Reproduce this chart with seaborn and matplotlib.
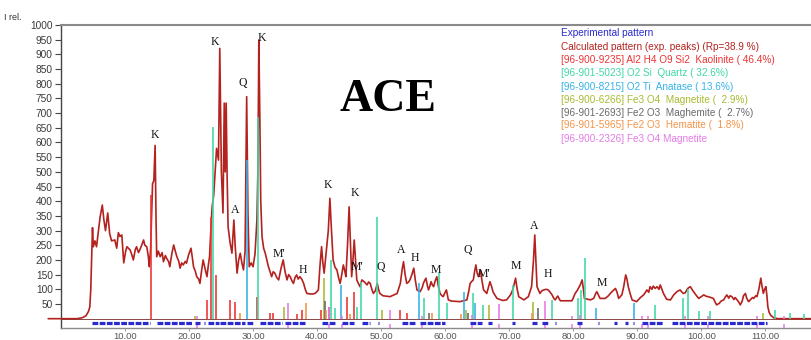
import matplotlib
matplotlib.use("Agg")
import matplotlib.pyplot as plt
import seaborn as sns
import pandas as pd

# ---------------- data ----------------
two_theta = [-2, 0, 2.5, 3.3, 3.9, 4.3, 4.5, 4.65, 4.8, 4.92, 5.05, 5.3, 5.55, 5.8, 6.1, 6.45, 6.7, 6.95,
             7.3, 7.6, 7.9, 8.4, 8.7, 8.96, 9.2, 9.5, 9.8, 10.1, 10.3, 10.8, 11.1, 11.3, 11.6, 11.8, 12.1,
             12.3, 12.6, 12.9, 13.1, 13.4, 13.65, 13.8, 14.0, 14.3, 14.5, 14.7, 14.85, 14.95, 15.2, 15.5,
             15.8, 16.0, 16.3, 16.5, 16.8, 17.0, 17.3, 17.6, 17.85, 18.1, 18.4, 18.6, 18.85, 19.1, 19.4,
             19.6, 19.9, 20.3, 20.5, 20.7, 21.0, 21.2, 21.5, 21.7, 22.0, 22.2, 22.5, 22.8, 23.0, 23.2,
             23.4, 23.6, 23.85, 24.1, 24.3, 24.45, 24.6, 24.8, 25.05, 25.3, 25.5, 25.65, 25.8, 25.95,
             26.1, 26.4, 26.7, 26.85, 27.0, 27.2, 27.5, 27.75, 28.0, 28.25, 28.5, 28.75, 29.0, 29.2,
             29.4, 29.7, 30.0, 30.3, 30.6, 30.75, 30.9, 31.05, 31.2, 31.4, 31.65, 31.9, 32.15, 32.4,
             32.65, 32.9, 33.15, 33.4, 33.7, 34.0, 34.35, 34.7, 35.0, 35.3, 35.55, 35.8, 36.05, 36.3,
             36.55, 36.8, 37.05, 37.3, 37.6, 37.9, 38.15, 38.4, 39.0, 39.4, 39.8, 40.2, 40.45, 40.7,
             40.9, 41.1, 41.3, 41.5, 41.75, 42.0, 42.2, 42.5, 42.8, 43.1, 43.35, 43.6, 43.85, 44.1,
             44.3, 44.5, 44.75, 45.0, 45.2, 45.4, 45.6, 45.8, 46.0, 46.2, 46.45, 46.7, 47.0, 47.4,
             47.8, 48.05, 48.3, 48.55, 48.8, 49.1, 49.4, 49.6, 49.8, 50.3, 51.4, 52.5, 53.0, 53.3,
             53.5, 53.75, 54.0, 54.3, 54.5, 54.8, 55.1, 55.35, 55.6, 56.1, 56.4, 56.6, 56.8, 57.0,
             57.2, 57.4, 57.6, 57.8, 58.0, 58.2, 58.4, 58.7, 58.95, 59.2, 59.5, 59.7, 60.0, 60.2,
             60.5, 61.0, 62.3, 63.4, 63.7, 63.9, 64.2, 64.4, 64.6, 64.8, 65.0, 65.2, 65.5, 65.75,
             66.0, 66.5, 66.8, 67.0, 67.25, 67.5, 68.1, 69.0, 69.6, 70.2, 70.5, 70.7, 71.0, 71.25,
             71.5, 72.3, 73.0, 73.3, 73.5, 73.8, 74.0, 74.2, 74.35, 74.8, 75.1, 75.4, 75.8, 76.1,
             76.4, 76.7, 77.0, 77.2, 77.4, 77.6, 77.8, 78.0, 79.8, 80.0, 80.3, 80.6, 80.8, 81.1,
             81.4, 81.6, 81.75, 82.7, 83.2, 83.5, 83.7, 83.95, 84.2, 85.0, 85.5, 85.8, 86.2, 86.6,
             86.85, 87.1, 87.6, 87.9, 88.2, 88.4, 88.6, 88.9, 89.2, 89.9, 90.5, 91.0, 91.3, 91.5,
             91.8, 92.0, 92.3, 92.5, 92.8, 93.1, 93.4, 93.6, 93.85, 94.1, 94.6, 95.2, 95.7, 96.2,
             96.7, 97.0, 97.2, 97.5, 97.8, 98.0, 98.3, 98.6, 98.8, 99.2, 99.6, 100.0, 100.4, 100.8,
             101.1, 101.5, 101.9, 102.2, 102.4, 102.8, 103.1, 103.5, 103.8, 104.0, 104.3, 104.5,
             104.8, 105.1, 105.3, 105.6, 105.9, 106.1, 106.4, 106.6, 106.9, 107.1, 107.4, 107.7,
             108.0, 108.2, 108.5, 108.7, 109.0, 109.3, 109.5, 109.7, 109.9, 110.1, 110.25, 110.4,
             110.6, 110.8, 111.3, 112.0, 117.5]
intensity = [0, 0, 0, 3, 10, 25, 40, 100, 210, 310, 245, 265, 245, 290, 345, 387, 336, 300,
             360, 290, 265, 268, 240, 293, 280, 285, 190, 230, 245, 234, 215, 200, 235, 245, 225,
             234, 250, 268, 250, 245, 210, 177, 240, 460, 470, 590, 330, 211, 230, 211,
             225, 194, 215, 205, 195, 177, 220, 251, 230, 211, 195, 172, 190, 183, 195,
             189, 215, 240, 210, 177, 160, 143, 135, 120, 170, 200, 170, 143, 180, 211,
             300, 380, 420, 506, 580, 560, 540, 920, 500, 360, 734, 500, 734, 480,
             313, 260, 223, 280, 336, 250, 155, 200, 223, 190, 166, 230, 756, 360,
             177, 190, 177, 220, 336, 500, 949, 700, 400, 279, 240, 223, 200, 177,
             160, 143, 160, 155, 140, 132, 170, 200, 160, 132, 150, 143, 130, 120,
             140, 149, 135, 143, 135, 120, 100, 86, 84, 84, 88, 98, 180, 245,
             190, 155, 200, 245, 300, 410, 320, 200, 175, 166, 140, 120, 150, 183,
             165, 143, 250, 381, 260, 143, 200, 268, 200, 132, 120, 109, 132, 125,
             115, 125, 120, 100, 86, 95, 120, 100, 86, 78, 75, 86, 120, 170,
             194, 150, 120, 125, 132, 150, 172, 130, 98, 92, 105, 120, 130, 138,
             115, 98, 110, 126, 115, 109, 126, 143, 110, 86, 78, 75, 90, 98,
             64, 60, 58, 64, 95, 120, 128, 132, 160, 183, 155, 143, 166, 130,
             98, 86, 110, 126, 110, 90, 69, 62, 64, 81, 95, 110, 138, 100,
             75, 64, 75, 95, 109, 200, 285, 180, 109, 86, 95, 98, 100, 98,
             90, 81, 68, 64, 72, 77, 68, 61, 61, 70, 86, 95, 103, 115,
             132, 100, 69, 64, 69, 85, 92, 80, 69, 69, 78, 86, 95, 103,
             90, 69, 81, 110, 149, 135, 109, 85, 64, 58, 72, 81, 90, 98,
             90, 109, 100, 111, 103, 109, 100, 115, 100, 86, 66, 64, 81, 92,
             98, 90, 86, 88, 100, 105, 109, 98, 92, 80, 69, 75, 81, 76,
             75, 72, 69, 55, 47, 52, 60, 64, 75, 81, 70, 78,
             75, 65, 72, 64, 55, 47, 60, 78, 86, 70, 58, 65,
             72, 69, 78, 75, 100, 138, 110, 86, 100, 109, 80, 41,
             22, 13, 3, 0, 0]

kaolinite_pos = [14.05, 22.8, 23.4, 24.2, 26.4, 27.2, 30.6, 32.7, 33.1, 36.8, 37.7, 40.6, 41.8, 44.6, 45.8, 53.0, 54.0]
kaolinite_h = [420, 64, 347, 150, 64, 58, 75, 18, 18, 15, 30, 30, 41, 75, 92, 30, 20]
quartz_pos = [23.8, 30.8, 42.2, 42.8, 46.3, 46.8, 49.3, 56.7, 59.0, 60.3, 64.4, 65.9, 70.6, 76.7, 80.8, 81.2, 81.8,
              92.8, 97.1, 97.9, 99.7, 101.3, 111.5, 113.8, 116.1]
quartz_h = [654, 688, 200, 36, 41, 126, 347, 69, 155, 52, 86, 47, 115, 64, 69, 98, 206,
            47, 69, 100, 26, 25, 30, 20, 15]
anatase_pos = [29.0, 43.7, 55.9, 63.0, 64.6, 83.6, 89.5]
anatase_h = [540, 115, 120, 92, 52, 36, 53]
magnetite_pos = [20.9, 34.8, 41.1, 50.1, 63.2, 66.9, 73.8, 109.6]
magnetite_h = [10, 41, 138, 30, 30, 47, 58, 20]
maghemite_pos = [41.3, 57.5, 63.5, 74.5]
maghemite_h = [60, 20, 20, 36]
hematite_pos = [28.0, 38.3, 41.4, 45.2, 57.9, 62.4, 73.6]
hematite_h = [18, 55, 30, 15, 20, 15, 20]
magnetite2_pos = [21.2, 35.4, 41.9, 43.9, 51.4, 56.4, 64.2, 68.4, 75.6, 79.8, 81.1, 90.7, 91.7, 97.5, 101.1, 108.7, 112.9]
magnetite2_h = [8, 52, 41, 10, 30, 10, 12, 50, 60, 10, 12, 10, 10, 10, 10, 10, 10]

exp_start = [4.8, 15.0, 21.0, 22.3, 23.0, 24.9, 29.0, 31.1, 35.0, 40.7, 43.9, 47.0, 49.5, 53.2, 56.1, 63.9,
             66.7, 70.4, 73.5, 75.1, 77.1, 80.6, 83.9, 86.3, 88.1, 89.3, 90.7, 95.4]
exp_end = [13.9, 20.4, 21.7, 22.5, 24.7, 28.8, 30.1, 34.5, 38.1, 42.8, 45.7, 48.3, 49.7, 55.3, 60.0, 65.7,
           67.3, 70.9, 74.3, 76.1, 77.3, 81.4, 84.1, 86.8, 88.6, 89.5, 94.1, 110.3]

label_text = ["K", "K", "Q", "K", "A", "M'", "H", "K", "K", "M'", "Q", "A", "H", "M", "Q", "M'", "M", "A", "H", "M"]
label_x = [14.7, 24.1, 28.4, 31.4, 27.2, 34.1, 37.7, 41.7, 45.9, 46.2, 50.0, 53.1, 55.3, 58.6, 63.6, 66.1, 71.1, 73.9, 76.1, 84.5]
label_y = [625, 942, 802, 955, 370, 220, 166, 455, 428, 175, 175, 234, 207, 166, 234, 152, 179, 315, 152, 121]

legend_lines = ["Experimental pattern",
                "Calculated pattern (exp. peaks) (Rp=38.9 %)",
                "[96-900-9235] Al2 H4 O9 Si2  Kaolinite ( 46.4%)",
                "[96-901-5023] O2 Si  Quartz ( 32.6%)",
                "[96-900-8215] O2 Ti  Anatase ( 13.6%)",
                "[96-900-6266] Fe3 O4  Magnetite (  2.9%)",
                "[96-901-2693] Fe2 O3  Maghemite (  2.7%)",
                "[96-901-5965] Fe2 O3  Hematite (  1.8%)",
                "[96-900-2326] Fe3 O4 Magnetite"]

x_ticks = [10, 20, 30, 40, 50, 60, 70, 80, 90, 100, 110]
y_ticks = list(range(50, 1001, 50))

# ---------------- styling ----------------
C_EXP = "#2a2ad0"
C_CALC = "#b3221f"
C_KAO = "#ec3434"
C_QTZ = "#3ed8a4"
C_ANA = "#36b2e8"
C_MAG = "#a8bb30"
C_MGH = "#6a6a6a"
C_HEM = "#f39448"
C_MAG2 = "#e47be6"
legend_colors = [C_EXP, C_CALC, C_KAO, C_QTZ, C_ANA, C_MAG, C_MGH, C_HEM, C_MAG2]

sns.set_style("white")
plt.rcParams["font.family"] = ["Liberation Sans", "DejaVu Sans"]

fig = plt.figure(figsize=(8.12, 3.4), dpi=100)
ax = fig.add_axes([61 / 812, 12 / 340, 1 - 61 / 812, 303 / 340])

df = pd.DataFrame({"two_theta": two_theta, "intensity": intensity})
sns.lineplot(data=df, x="two_theta", y="intensity", ax=ax, color=C_CALC, lw=1.2,
             estimator=None, sort=False, zorder=3, clip_on=False)

phases = [(kaolinite_pos, kaolinite_h, C_KAO), (quartz_pos, quartz_h, C_QTZ),
          (anatase_pos, anatase_h, C_ANA), (magnetite_pos, magnetite_h, C_MAG),
          (maghemite_pos, maghemite_h, C_MGH), (hematite_pos, hematite_h, C_HEM),
          (magnetite2_pos, magnetite2_h, C_MAG2)]
for pos, h, c in phases:
    ax.vlines(pos, 0, h, colors=c, lw=1.3, zorder=4, alpha=0.9)

# magnetite (2326) ticks below baseline
ax.vlines(magnetite2_pos, -31, -18, colors=C_MAG2, lw=1.1, zorder=4)
# experimental peak markers
ax.hlines([-14.5] * len(exp_start), exp_start, exp_end, colors=C_EXP, lw=2.3,
          linestyles=[(0, (1.8, 0.45))], zorder=4)
ax.axhline(0, color="#7a2a2a", lw=0.6, zorder=2)

for t, x, y in zip(label_text, label_x, label_y):
    ax.text(x, y, t, fontsize=8.5, family=["Liberation Serif", "DejaVu Serif"],
            ha="center", va="center", color="#111111", zorder=5)

ax.text(51.1, 744, "ACE", fontsize=33, fontweight="bold",
        family=["Liberation Serif", "DejaVu Serif"], ha="center", va="center", color="black")

ax.set_xlim(0, 117.3)
ax.set_ylim(-31.7, 1000)
ax.set_xticks(x_ticks)
ax.set_xticklabels([f"{v:.2f}" for v in x_ticks])
ax.set_yticks(y_ticks)
ax.set_yticklabels([str(v) for v in y_ticks])
ax.tick_params(axis="y", direction="out", length=4, width=0.8, color="#444444",
               labelsize=7.3, labelcolor="#3a3a3a", pad=2, left=True)
ax.tick_params(axis="x", direction="out", length=2, width=0.6, color="#888888",
               labelsize=6.8, labelcolor="#555555", pad=1, bottom=True)
ax.set_xlabel("")
ax.set_ylabel("")
ax.spines["right"].set_visible(False)
ax.spines["left"].set_color("#444444")
ax.spines["left"].set_linewidth(1.0)
ax.spines["top"].set_color("#8a8a8a")
ax.spines["top"].set_linewidth(1.5)
ax.spines["bottom"].set_color("#8a8a8a")
ax.spines["bottom"].set_linewidth(1.0)

fig.text(4 / 812, 1 - 17 / 340, "I rel.", fontsize=6.5, color="#333333", ha="left", va="center")

ys = [33, 46.5, 60, 73, 86.5, 100, 113, 125.5]
for i, (txt, c) in enumerate(zip(legend_lines, legend_colors)):
    y = ys[i] if i < len(ys) else ys[-1] + 13
    fig.text(561 / 812, 1 - y / 340, txt, fontsize=7.2, color=c, ha="left", va="center")

fig.savefig("out.png", dpi=100)
